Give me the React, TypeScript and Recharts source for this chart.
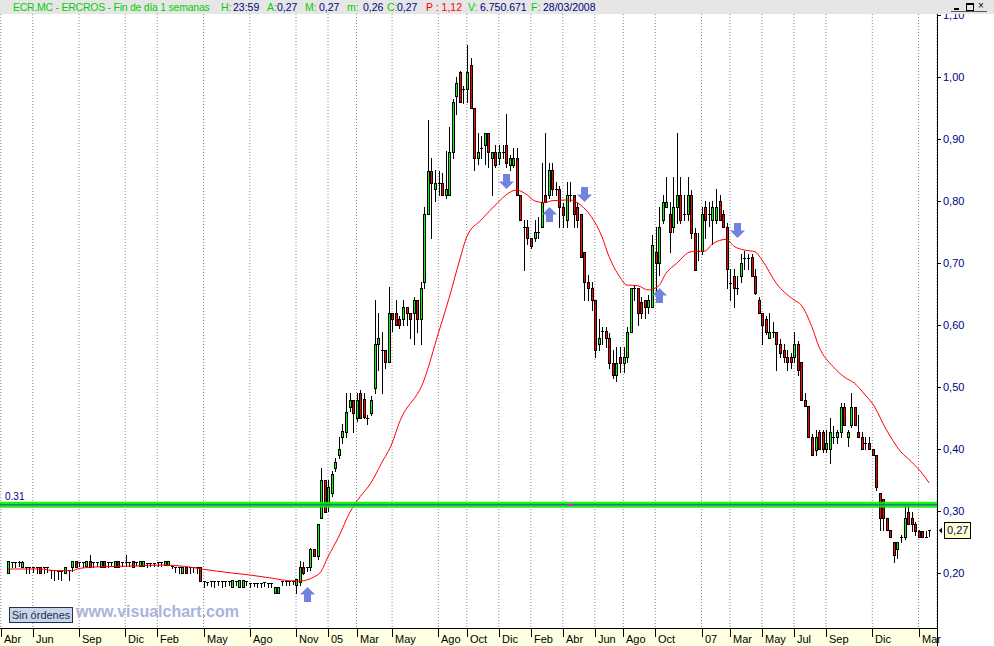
import React from "react";
import {
  ComposedChart,
  Bar,
  Line,
  XAxis,
  YAxis,
  CartesianGrid,
  ReferenceLine,
  ReferenceDot,
} from "recharts";

// weekly candles for ECR.MC, [open, high, low, close]
const weeks2003: number[][] = [
  [0.2, 0.219, 0.2, 0.219], [0.218, 0.218, 0.209, 0.218], [0.218, 0.218, 0.209, 0.218], [0.218, 0.219, 0.211, 0.218],
  [0.21, 0.219, 0.21, 0.218], [0.21, 0.21, 0.2, 0.21], [0.21, 0.21, 0.2, 0.21], [0.21, 0.21, 0.201, 0.21],
  [0.21, 0.21, 0.2, 0.21], [0.21, 0.21, 0.2, 0.2], [0.209, 0.209, 0.2, 0.209], [0.209, 0.209, 0.202, 0.209],
  [0.205, 0.205, 0.192, 0.205], [0.205, 0.205, 0.188, 0.205], [0.204, 0.204, 0.19, 0.204], [0.204, 0.204, 0.188, 0.204],
  [0.2, 0.21, 0.2, 0.21], [0.205, 0.205, 0.188, 0.205], [0.21, 0.219, 0.203, 0.219], [0.219, 0.219, 0.21, 0.21],
  [0.218, 0.218, 0.211, 0.218], [0.218, 0.218, 0.21, 0.218], [0.211, 0.219, 0.211, 0.219], [0.219, 0.229, 0.21, 0.21],
  [0.218, 0.218, 0.21, 0.218], [0.218, 0.218, 0.211, 0.218], [0.21, 0.219, 0.21, 0.219], [0.219, 0.219, 0.21, 0.21],
  [0.218, 0.218, 0.21, 0.218], [0.218, 0.218, 0.211, 0.218], [0.21, 0.219, 0.21, 0.219], [0.219, 0.219, 0.21, 0.21],
  [0.218, 0.218, 0.212, 0.218], [0.218, 0.229, 0.211, 0.218], [0.218, 0.218, 0.212, 0.218], [0.219, 0.219, 0.21, 0.21],
  [0.218, 0.218, 0.213, 0.218], [0.211, 0.219, 0.211, 0.219],
];

const weeks2004: number[][] = [
  [0.211, 0.219, 0.211, 0.219], [0.216, 0.216, 0.21, 0.216], [0.216, 0.216, 0.211, 0.216], [0.216, 0.216, 0.212, 0.216],
  [0.217, 0.217, 0.211, 0.217], [0.217, 0.217, 0.212, 0.217], [0.213, 0.219, 0.213, 0.219], [0.213, 0.219, 0.213, 0.219],
  [0.212, 0.212, 0.208, 0.212], [0.21, 0.21, 0.201, 0.21], [0.21, 0.21, 0.2, 0.21], [0.2, 0.21, 0.2, 0.21],
  [0.21, 0.21, 0.2, 0.2], [0.21, 0.21, 0.2, 0.21], [0.21, 0.21, 0.201, 0.21], [0.21, 0.21, 0.2, 0.21],
  [0.21, 0.21, 0.187, 0.187], [0.187, 0.187, 0.178, 0.187], [0.186, 0.186, 0.18, 0.186], [0.187, 0.187, 0.179, 0.187],
  [0.187, 0.187, 0.178, 0.187], [0.187, 0.187, 0.18, 0.187], [0.187, 0.187, 0.178, 0.187], [0.187, 0.187, 0.179, 0.187],
  [0.187, 0.187, 0.18, 0.187], [0.178, 0.188, 0.178, 0.188], [0.187, 0.187, 0.18, 0.187], [0.178, 0.188, 0.178, 0.188],
  [0.178, 0.188, 0.178, 0.188], [0.187, 0.187, 0.18, 0.187], [0.184, 0.184, 0.178, 0.184], [0.184, 0.184, 0.179, 0.184],
  [0.184, 0.184, 0.178, 0.184], [0.184, 0.184, 0.178, 0.184], [0.185, 0.185, 0.179, 0.185], [0.184, 0.184, 0.178, 0.184],
  [0.184, 0.184, 0.178, 0.184], [0.168, 0.178, 0.168, 0.178], [0.168, 0.178, 0.168, 0.178], [0.187, 0.187, 0.18, 0.187],
  [0.187, 0.187, 0.181, 0.187], [0.187, 0.187, 0.18, 0.187], [0.187, 0.187, 0.182, 0.187], [0.18, 0.19, 0.168, 0.19],
  [0.185, 0.22, 0.18, 0.21], [0.21, 0.218, 0.198, 0.2], [0.209, 0.209, 0.204, 0.209], [0.21, 0.24, 0.205, 0.239],
  [0.239, 0.239, 0.228, 0.228], [0.227, 0.279, 0.222, 0.279], [0.289, 0.369, 0.289, 0.35], [0.35, 0.35, 0.298, 0.298],
];

const weeks2005: number[][] = [
  [0.31, 0.35, 0.3, 0.339], [0.329, 0.365, 0.325, 0.36], [0.369, 0.385, 0.365, 0.379], [0.39, 0.419, 0.385, 0.4],
  [0.419, 0.44, 0.41, 0.429], [0.427, 0.49, 0.42, 0.46], [0.468, 0.49, 0.462, 0.479], [0.479, 0.479, 0.427, 0.458],
  [0.45, 0.49, 0.445, 0.479], [0.49, 0.495, 0.45, 0.45], [0.48, 0.49, 0.45, 0.452], [0.45, 0.455, 0.44, 0.45],
  [0.458, 0.485, 0.455, 0.479], [0.498, 0.64, 0.49, 0.569], [0.569, 0.619, 0.527, 0.579], [0.56, 0.589, 0.49, 0.56],
  [0.56, 0.56, 0.53, 0.54], [0.54, 0.661, 0.54, 0.619], [0.619, 0.619, 0.59, 0.61], [0.62, 0.64, 0.6, 0.6],
  [0.61, 0.615, 0.595, 0.6], [0.61, 0.64, 0.6, 0.629], [0.629, 0.629, 0.6, 0.619], [0.619, 0.619, 0.579, 0.61],
  [0.619, 0.645, 0.569, 0.64], [0.64, 0.64, 0.589, 0.61], [0.61, 0.67, 0.569, 0.66], [0.669, 0.79, 0.66, 0.779],
  [0.779, 0.93, 0.779, 0.848], [0.848, 0.87, 0.74, 0.829], [0.819, 0.85, 0.8, 0.829], [0.829, 0.848, 0.81, 0.829],
  [0.829, 0.845, 0.81, 0.81], [0.81, 0.88, 0.805, 0.819], [0.81, 0.919, 0.81, 0.879], [0.879, 0.965, 0.87, 0.96],
  [0.969, 1.0, 0.94, 0.99], [1.008, 1.01, 0.96, 0.96], [0.98, 0.985, 0.958, 0.98], [0.98, 1.052, 0.96, 1.008],
  [1.019, 1.03, 0.95, 0.95], [0.95, 0.95, 0.85, 0.869], [0.869, 0.91, 0.86, 0.879], [0.885, 0.905, 0.87, 0.885],
  [0.89, 0.91, 0.86, 0.91], [0.91, 0.91, 0.855, 0.879], [0.869, 0.879, 0.81, 0.879], [0.879, 0.89, 0.855, 0.858],
  [0.869, 0.89, 0.86, 0.879], [0.879, 0.89, 0.87, 0.879], [0.89, 0.94, 0.855, 0.861], [0.858, 0.875, 0.85, 0.869],
];

const weeks2006: number[][] = [
  [0.858, 0.885, 0.855, 0.869], [0.869, 0.885, 0.81, 0.81], [0.81, 0.81, 0.769, 0.769], [0.758, 0.77, 0.689, 0.758],
  [0.758, 0.77, 0.73, 0.74], [0.74, 0.74, 0.725, 0.727], [0.74, 0.77, 0.735, 0.75], [0.75, 0.775, 0.74, 0.75],
  [0.758, 0.861, 0.758, 0.798], [0.81, 0.91, 0.798, 0.798], [0.81, 0.861, 0.805, 0.85], [0.85, 0.861, 0.81, 0.819],
  [0.819, 0.83, 0.81, 0.819], [0.819, 0.825, 0.758, 0.79], [0.79, 0.797, 0.758, 0.777], [0.769, 0.83, 0.758, 0.81],
  [0.81, 0.83, 0.8, 0.81], [0.81, 0.81, 0.758, 0.779], [0.79, 0.797, 0.758, 0.769], [0.779, 0.779, 0.709, 0.709],
  [0.718, 0.718, 0.64, 0.669], [0.669, 0.68, 0.64, 0.66], [0.66, 0.669, 0.625, 0.64], [0.64, 0.64, 0.548, 0.56],
  [0.569, 0.61, 0.56, 0.579], [0.59, 0.597, 0.57, 0.59], [0.59, 0.597, 0.565, 0.579], [0.579, 0.587, 0.53, 0.539],
  [0.539, 0.56, 0.515, 0.519], [0.519, 0.565, 0.51, 0.539], [0.548, 0.565, 0.525, 0.539], [0.539, 0.565, 0.525, 0.548],
  [0.548, 0.597, 0.54, 0.589], [0.589, 0.66, 0.589, 0.66], [0.66, 0.665, 0.64, 0.66], [0.66, 0.66, 0.6, 0.619],
  [0.637, 0.645, 0.612, 0.619], [0.64, 0.64, 0.612, 0.629], [0.629, 0.648, 0.62, 0.64], [0.629, 0.745, 0.629, 0.729],
  [0.718, 0.758, 0.64, 0.7], [0.7, 0.79, 0.68, 0.758], [0.769, 0.81, 0.765, 0.798], [0.79, 0.839, 0.79, 0.798],
  [0.779, 0.798, 0.718, 0.75], [0.758, 0.839, 0.75, 0.79], [0.79, 0.91, 0.765, 0.81], [0.81, 0.839, 0.765, 0.769],
  [0.779, 0.81, 0.77, 0.779], [0.779, 0.839, 0.77, 0.81], [0.81, 0.817, 0.74, 0.748], [0.748, 0.756, 0.689, 0.689],
  [0.72, 0.748, 0.705, 0.72],
];

const weeks2007: number[][] = [
  [0.719, 0.79, 0.715, 0.779], [0.79, 0.8, 0.74, 0.769], [0.779, 0.798, 0.76, 0.779], [0.769, 0.8, 0.73, 0.79],
  [0.769, 0.819, 0.765, 0.79], [0.8, 0.81, 0.769, 0.769], [0.779, 0.785, 0.758, 0.758], [0.758, 0.765, 0.66, 0.69],
  [0.668, 0.69, 0.64, 0.668], [0.679, 0.69, 0.629, 0.66], [0.66, 0.679, 0.65, 0.66], [0.679, 0.715, 0.67, 0.7],
  [0.708, 0.72, 0.69, 0.708], [0.708, 0.715, 0.69, 0.708], [0.709, 0.715, 0.679, 0.679], [0.679, 0.69, 0.65, 0.651],
  [0.64, 0.645, 0.619, 0.619], [0.619, 0.619, 0.569, 0.6], [0.61, 0.615, 0.585, 0.589], [0.579, 0.619, 0.579, 0.589],
  [0.589, 0.605, 0.58, 0.589], [0.589, 0.589, 0.527, 0.569], [0.569, 0.578, 0.548, 0.555], [0.56, 0.569, 0.54, 0.548],
  [0.548, 0.56, 0.527, 0.54], [0.548, 0.555, 0.53, 0.54], [0.548, 0.589, 0.54, 0.569], [0.569, 0.575, 0.519, 0.527],
  [0.54, 0.54, 0.479, 0.479], [0.479, 0.49, 0.469, 0.469], [0.469, 0.469, 0.419, 0.419], [0.419, 0.425, 0.39, 0.39],
  [0.398, 0.43, 0.39, 0.419], [0.427, 0.43, 0.4, 0.4], [0.427, 0.43, 0.395, 0.4], [0.4, 0.43, 0.395, 0.409],
  [0.4, 0.45, 0.377, 0.427], [0.419, 0.437, 0.41, 0.419], [0.419, 0.43, 0.41, 0.427], [0.427, 0.475, 0.42, 0.468],
  [0.468, 0.475, 0.439, 0.439], [0.419, 0.43, 0.405, 0.427], [0.439, 0.49, 0.435, 0.468], [0.468, 0.468, 0.439, 0.439],
  [0.427, 0.455, 0.419, 0.419], [0.419, 0.427, 0.4, 0.4], [0.409, 0.419, 0.4, 0.409], [0.409, 0.419, 0.4, 0.4],
  [0.4, 0.4, 0.39, 0.39], [0.39, 0.39, 0.334, 0.339], [0.329, 0.329, 0.269, 0.289], [0.32, 0.32, 0.269, 0.289],
];

const weeks2008: number[][] = [
  [0.289, 0.289, 0.269, 0.269], [0.269, 0.269, 0.258, 0.258], [0.25, 0.25, 0.218, 0.229], [0.239, 0.25, 0.225, 0.25],
  [0.258, 0.262, 0.25, 0.258], [0.258, 0.31, 0.255, 0.289], [0.298, 0.31, 0.279, 0.279], [0.289, 0.298, 0.268, 0.279],
  [0.279, 0.282, 0.262, 0.268], [0.268, 0.27, 0.258, 0.258], [0.268, 0.268, 0.258, 0.258], [0.258, 0.268, 0.258, 0.258],
  [0.27, 0.27, 0.26, 0.27],
];

// red moving average at these weeks
const maPoints: [number, number][] = [
  [2, 0.2065], [11, 0.2065], [15, 0.204], [20, 0.2037], [22, 0.2073], [28, 0.21], [38, 0.2113], [45, 0.2129],
  [52, 0.2105], [57, 0.206], [65, 0.2], [70, 0.1968], [76, 0.1919], [81, 0.1876], [84, 0.1871], [86, 0.1887],
  [88, 0.1935], [90, 0.2021], [92, 0.2263], [95, 0.2585], [98, 0.2963], [101, 0.323], [104, 0.3447], [107, 0.3769],
  [110, 0.4092], [112, 0.442], [119, 0.5113], [123, 0.5866], [126, 0.643], [129, 0.7048], [131, 0.7424], [135, 0.7694],
  [140, 0.7989], [142, 0.8097], [145, 0.8177], [148, 0.8097], [150, 0.8005], [153, 0.7973], [155, 0.8005], [160, 0.8016],
  [163, 0.7935], [166, 0.7747], [169, 0.7424], [171, 0.7102], [174, 0.6779], [176, 0.6645], [179, 0.6634], [182, 0.6565],
  [185, 0.6634], [187, 0.6834], [190, 0.6995], [194, 0.7182], [198, 0.7194], [200, 0.7306], [204, 0.7382], [206, 0.7274],
  [209, 0.721], [212, 0.7182], [214, 0.7048], [218, 0.6673], [223, 0.6403], [225, 0.6323], [228, 0.5973], [230, 0.565],
  [234, 0.5327], [237, 0.5166], [240, 0.506], [243, 0.4871], [245, 0.4737], [249, 0.4306], [253, 0.3956], [256, 0.3795],
  [259, 0.3608], [261, 0.3452],
];

// blue signal arrows: [week, price at the arrow tip]
const buySignals: [number, number][] = [[86, 0.177], [154, 0.79], [185, 0.66]];
const sellSignals: [number, number][] = [[142, 0.819], [164, 0.798], [207, 0.74]];

const monthTicks: [string, number][] = [
  ["Abr", 0], ["Jun", 9], ["Sep", 22], ["Dic", 35], ["Feb", 44], ["May", 57], ["Ago", 70], ["Nov", 83],
  ["05", 92], ["Mar", 100], ["May", 110], ["Ago", 123], ["Oct", 131], ["Dic", 140], ["Feb", 149], ["Abr", 158],
  ["Jun", 167], ["Ago", 175], ["Oct", 184], ["07", 197], ["Mar", 205], ["May", 214], ["Jul", 223], ["Sep", 232],
  ["Dic", 245], ["Mar", 258],
];

const priceTicks = [0.2, 0.3, 0.4, 0.5, 0.6, 0.7, 0.8, 0.9, 1.0, 1.1];
const levelLine = 0.31;
const lastClose = 0.27;

const FONT = "'Liberation Sans', Arial, sans-serif";
const NAVY = "#000080";
const HEAD_GREEN = "#00d000";

const allWeeks: (number[] | null)[] = [
  null,
  null,
  ...weeks2003,
  ...weeks2004,
  ...weeks2005,
  ...weeks2006,
  ...weeks2007,
  ...weeks2008,
];
const maMap = new Map(maPoints);
const buyMap = new Map(buySignals);
const sellMap = new Map(sellSignals);
const tickLabel = new Map(monthTicks.map(([label, i]) => [i, label] as [number, string]));

const data = allWeeks.map((w, i) => ({
  i,
  o: w ? w[0] : null,
  h: w ? w[1] : null,
  l: w ? w[2] : null,
  c: w ? w[3] : null,
  range: w ? [w[2], w[1]] : null,
  ma: maMap.has(i) ? maMap.get(i) : null,
  buy: buyMap.has(i) ? buyMap.get(i) : null,
  sell: sellMap.has(i) ? sellMap.get(i) : null,
}));

const Candle = (props: any) => {
  const { x, y, width, height, payload } = props;
  if (!payload || payload.o == null || y == null) return <g />;
  const { o, h, l, c } = payload;
  const top = Math.min(y, y + height);
  const span = Math.abs(height);
  const py = (p: number) => (h === l ? top : top + ((h - p) / (h - l)) * span);
  const cx = Math.round(x + width / 2);
  const bTop = Math.round(py(Math.max(o, c)));
  const bBot = Math.round(py(Math.min(o, c)));
  return (
    <g>
      <line x1={cx + 0.5} x2={cx + 0.5} y1={Math.round(top)} y2={Math.round(top + span) + 1} stroke="#000" />
      {bBot - bTop < 1 ? (
        <line x1={cx - 1} x2={cx + 2} y1={bTop + 0.5} y2={bTop + 0.5} stroke="#000" />
      ) : (
        <rect
          x={cx - 0.5}
          y={bTop + 0.5}
          width={2}
          height={bBot - bTop}
          fill={c > o ? "#00ff00" : "#ff0000"}
          stroke="#000"
        />
      )}
    </g>
  );
};

const arrowColor = "#7282e2";

const UpArrow = (props: any) => {
  const { cx, cy, value, index } = props;
  if (value == null || cy == null) return <g key={`u${index}`} />;
  const x = Math.round(cx) + 0.5;
  const y = Math.round(cy);
  const pts = [
    [x, y], [x + 7.5, y + 7.5], [x + 3.5, y + 7.5], [x + 3.5, y + 15],
    [x - 3.5, y + 15], [x - 3.5, y + 7.5], [x - 7.5, y + 7.5],
  ];
  return <polygon key={`u${index}`} points={pts.map((p) => p.join(",")).join(" ")} fill={arrowColor} />;
};

const DownArrow = (props: any) => {
  const { cx, cy, value, index } = props;
  if (value == null || cy == null) return <g key={`d${index}`} />;
  const x = Math.round(cx) + 0.5;
  const y = Math.round(cy);
  const pts = [
    [x, y], [x + 7.5, y - 7.5], [x + 3.5, y - 7.5], [x + 3.5, y - 15],
    [x - 3.5, y - 15], [x - 3.5, y - 7.5], [x - 7.5, y - 7.5],
  ];
  return <polygon key={`d${index}`} points={pts.map((p) => p.join(",")).join(" ")} fill={arrowColor} />;
};

const MonthTick = (props: any) => {
  const { x, y, payload } = props;
  const px = Math.round(x);
  return (
    <g>
      <line x1={px + 0.5} x2={px + 0.5} y1={y} y2={y + 9} stroke="#000" />
      <text x={px + 3} y={y + 15} fontSize={11} fontFamily={FONT} fill="#000">
        {tickLabel.get(payload.value)}
      </text>
    </g>
  );
};

const PriceTick = (props: any) => {
  const { x, y, payload } = props;
  const ry = Math.round(y);
  return (
    <g>
      <line x1={x} x2={x + 4} y1={ry + 0.5} y2={ry + 0.5} stroke="#000" />
      <text x={x + 6} y={ry} dy="0.36em" fontSize={11} fontFamily={FONT} fill={NAVY}>
        {payload.value.toFixed(2).replace(".", ",")}
      </text>
    </g>
  );
};

const LevelLabel = (props: any) => {
  const vb = props.viewBox || {};
  return (
    <text x={vb.x + 6} y={vb.y - 5} fontSize={10} fontFamily={FONT} fill={NAVY}>
      {levelLine.toFixed(2)}
    </text>
  );
};

const PriceTag = (props: any) => {
  const vb = props.viewBox || {};
  const right = vb.x + vb.width;
  const cy = Math.round(vb.y);
  return (
    <g>
      <path d={`M${right + 2},${cy + 0.5} L${right + 5},${cy - 2.5} L${right + 5},${cy + 3.5} Z`} fill="#000" />
      <rect x={right + 7.5} y={cy - 7.5} width={26} height={16} fill="#ffffc8" stroke="#000" />
      <text x={right + 10} y={cy} dy="0.36em" fontSize={11} fontFamily={FONT} fill={NAVY}>
        {lastClose.toFixed(2).replace(".", ",")}
      </text>
    </g>
  );
};

const headerParts: [string, string, number][] = [
  ["ECR.MC - ERCROS - Fin de día 1 semanas", HEAD_GREEN, 13],
  ["H:", HEAD_GREEN, 221],
  ["23:59", NAVY, 233],
  ["A:", HEAD_GREEN, 267],
  ["0,27", NAVY, 277],
  ["M:", HEAD_GREEN, 305],
  ["0,27", NAVY, 319],
  ["m:", HEAD_GREEN, 347],
  ["0,26", NAVY, 363],
  ["C:", HEAD_GREEN, 387],
  ["0,27", NAVY, 397],
  ["P : 1,12", "#ff0000", 426],
  ["V:", HEAD_GREEN, 468],
  ["6.750.671", NAVY, 480],
  ["F:", HEAD_GREEN, 531],
  ["28/03/2008", NAVY, 543],
];

export default function App() {
  return (
    <div
      style={{
        position: "absolute",
        left: 0,
        top: 0,
        width: 994,
        height: 646,
        overflow: "hidden",
        background: "#fff",
        fontFamily: FONT,
      }}
    >
      {/* date axis band */}
      <div style={{ position: "absolute", left: 0, top: 628, width: 937, height: 18, background: "#ffffe1" }} />

      <div style={{ position: "absolute", left: -1, top: 0 }}>
        <ComposedChart
          width={995}
          height={646}
          data={data}
          margin={{ top: 8, right: 0, bottom: 0, left: 0 }}
          barCategoryGap={0}
        >
          <CartesianGrid horizontal={false} stroke="#8c8c8c" strokeDasharray="1 2" />
          <XAxis
            dataKey="i"
            type="category"
            ticks={monthTicks.map((t) => t[1])}
            interval={0}
            height={18}
            padding={{ left: 0, right: 6 }}
            axisLine={false}
            tickLine={false}
            tickSize={0}
            tickMargin={0}
            tick={<MonthTick />}
          />
          <YAxis
            orientation="right"
            width={57}
            domain={[0.1113, 1.1113]}
            allowDataOverflow
            ticks={priceTicks}
            interval={0}
            axisLine={false}
            tickLine={false}
            tickSize={0}
            tickMargin={0}
            tick={<PriceTick />}
          />
          <Bar dataKey="range" shape={Candle} isAnimationActive={false} />
          <Line
            dataKey="ma"
            type="monotone"
            stroke="#ff0000"
            strokeWidth={1}
            dot={false}
            activeDot={false}
            connectNulls
            isAnimationActive={false}
          />
          <ReferenceLine y={levelLine} stroke="#00f000" strokeWidth={6} strokeOpacity={0.9} label={LevelLabel} />
          <ReferenceLine y={levelLine} stroke="#2448b0" strokeWidth={1} />
          <ReferenceDot
            x={160}
            y={levelLine}
            r={2}
            shape={(p: any) => (
              <rect x={Math.round(p.cx) - 2} y={Math.round(p.cy) - 1} width={5} height={2} fill="#ff00ff" />
            )}
          />
          <ReferenceLine y={lastClose} stroke="none" label={PriceTag} />
          <Line dataKey="buy" stroke="none" dot={UpArrow} activeDot={false} isAnimationActive={false} />
          <Line dataKey="sell" stroke="none" dot={DownArrow} activeDot={false} isAnimationActive={false} />
        </ComposedChart>
      </div>

      {/* axis frame lines */}
      <div style={{ position: "absolute", left: 0, top: 628, width: 937, height: 1, background: "#000" }} />
      <div style={{ position: "absolute", left: 937, top: 0, width: 1, height: 646, background: "#000" }} />

      {/* header strip */}
      <div
        style={{
          position: "absolute",
          left: 0,
          top: 0,
          width: 994,
          height: 14,
          background: "#e6e6e6",
          fontSize: 10.5,
          lineHeight: "14px",
        }}
      >
        {headerParts.map(([text, color, x], k) => (
          <span
            key={k}
            style={{
              position: "absolute",
              left: x,
              top: 0,
              color,
              whiteSpace: "nowrap",
              letterSpacing: k === 0 ? "-0.25px" : "0px",
            }}
          >
            {text}
          </span>
        ))}
        {/* window buttons: minimise, maximise, close */}
        <div style={{ position: "absolute", left: 951, top: 11, width: 36, height: 1, background: "#555" }} />
        <div style={{ position: "absolute", left: 954, top: 8, width: 5, height: 2, background: "#000" }} />
        <div
          style={{
            position: "absolute",
            left: 966,
            top: 3,
            width: 6,
            height: 5,
            border: "1px solid #000",
            borderTopWidth: 2,
          }}
        />
        <div
          style={{
            position: "absolute",
            left: 978,
            top: 1,
            fontSize: 10,
            lineHeight: "10px",
            color: "#000",
          }}
        >
          ×
        </div>
      </div>

      {/* status box and watermark */}
      <div
        style={{
          position: "absolute",
          left: 9,
          top: 607,
          width: 62,
          height: 14,
          border: "1px solid #223049",
          background: "#c8d6ea",
          color: "#1e2d4d",
          fontSize: 11,
          lineHeight: "14px",
          textAlign: "center",
        }}
      >
        Sin órdenes
      </div>
      <div
        style={{
          position: "absolute",
          left: 76,
          top: 603,
          fontSize: 16,
          lineHeight: "17px",
          fontWeight: "bold",
          color: "#abb3da",
          whiteSpace: "nowrap",
        }}
      >
        www.visualchart.com
      </div>
    </div>
  );
}
